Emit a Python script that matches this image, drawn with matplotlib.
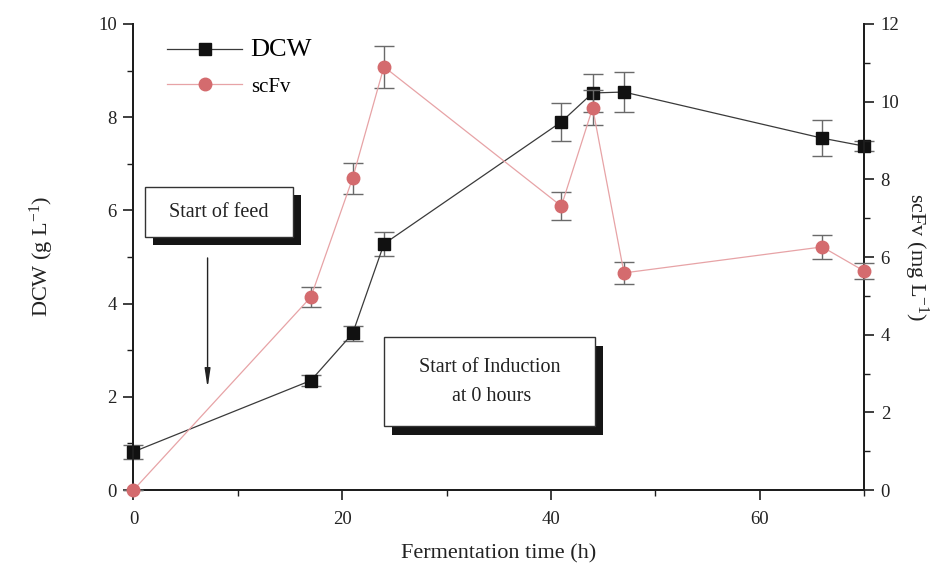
import matplotlib
matplotlib.use("Agg")
import matplotlib.pyplot as plt
from matplotlib.patches import Rectangle
from matplotlib.ticker import MultipleLocator

plt.rcParams["font.family"] = ["Liberation Serif", "DejaVu Serif"]
plt.rcParams["mathtext.fontset"] = "custom"
plt.rcParams["mathtext.rm"] = "Liberation Serif"
plt.rcParams["mathtext.it"] = "Liberation Serif"

# Fermentation time course (h)
time_h = [0, 17, 21, 24, 41, 44, 47, 66, 70]
dcw = [0.82, 2.35, 3.36, 5.28, 7.90, 8.52, 8.54, 7.55, 7.38]
dcw_err = [0.15, 0.12, 0.16, 0.26, 0.40, 0.40, 0.43, 0.38, 0.10]
scfv = [0.0, 4.97, 8.03, 10.9, 7.31, 9.84, 5.59, 6.26, 5.64]
scfv_err = [0.0, 0.26, 0.40, 0.54, 0.36, 0.45, 0.28, 0.30, 0.20]

# feed start marker (h) and arrow span on DCW axis
feed_time = 7.1
feed_arrow = (4.98, 2.19)

INK = "#1e1e1e"
ERR = "#6a6a6a"
PINK_LINE = "#e7a3a6"
PINK_DOT = "#d46b6e"

fig = plt.figure(figsize=(9.42, 5.74), dpi=100)
ax = fig.add_axes([0.1417, 0.1463, 0.7755, 0.8119])
ax2 = ax.twinx()

dcw_plot = ax.errorbar(time_h, dcw, yerr=dcw_err, color="#3a3a3a", lw=0.9,
                       marker="s", ms=8.5, mfc="#111111", mec="#111111",
                       ecolor=ERR, elinewidth=1.0, capsize=7.5, capthick=1.0,
                       zorder=3, clip_on=False)
scfv_plot = ax2.errorbar(time_h, scfv, yerr=scfv_err, color=PINK_LINE, lw=0.9,
                         marker="o", ms=9, mfc=PINK_DOT, mec=PINK_DOT,
                         ecolor=ERR, elinewidth=1.0, capsize=7.5, capthick=1.0,
                         zorder=3, clip_on=False)

ax.set_xlim(0, 70)
ax.set_ylim(0, 10)
ax2.set_ylim(0, 12)

for a in (ax, ax2):
    a.spines["top"].set_visible(False)
    for s in ("left", "right", "bottom"):
        a.spines[s].set_linewidth(1.4)
        a.spines[s].set_color(INK)

ax.xaxis.set_major_locator(MultipleLocator(20))
ax.xaxis.set_minor_locator(MultipleLocator(10))
ax.yaxis.set_major_locator(MultipleLocator(2))
ax.yaxis.set_minor_locator(MultipleLocator(1))
ax2.yaxis.set_major_locator(MultipleLocator(2))
ax2.yaxis.set_minor_locator(MultipleLocator(1))

for a in (ax, ax2):
    a.tick_params(which="major", direction="out", length=7, width=1.2,
                  color=INK, labelsize=13.5, labelcolor="#222222", pad=5)
    a.tick_params(which="minor", direction="out", length=4, width=1.0, color=INK)
ax.tick_params(axis="x", which="major", pad=8)

ax.set_xlabel("Fermentation time (h)", fontsize=16, color="#222222", labelpad=12)
ax.set_ylabel("DCW (g L$^{-1}$)", fontsize=16, color="#222222", labelpad=30)
ax2.set_ylabel("scFv (mg L$^{-1}$)", fontsize=16, color="#222222",
               rotation=270, labelpad=22)

# legend uses only the line+marker part of each errorbar container
leg = ax2.legend([dcw_plot[0], scfv_plot[0]], ["DCW", "scFv"], loc="upper left",
                 bbox_to_anchor=(0.035, 0.985), frameon=False,
                 fontsize=15, handlelength=3.6, handletextpad=0.4,
                 labelspacing=0.75, borderaxespad=0.0)
leg.get_texts()[0].set_fontsize(19)
leg.set_zorder(10)


def shadow_box(axis, x0, y0, w, h, dx=0.011, dy=0.018):
    """White labelled box with a solid drop shadow (axes fraction coords)."""
    axis.add_patch(Rectangle((x0 + dx, y0 - dy), w, h, transform=axis.transAxes,
                             facecolor="#151515", edgecolor="none", zorder=8,
                             clip_on=False))
    axis.add_patch(Rectangle((x0, y0), w, h, transform=axis.transAxes,
                             facecolor="white", edgecolor="#333333", lw=1.0,
                             zorder=9, clip_on=False))


shadow_box(ax2, 0.016, 0.543, 0.202, 0.107)
ax2.text(0.016 + 0.101, 0.543 + 0.0535, "Start of feed", transform=ax2.transAxes,
         ha="center", va="center", fontsize=14.5, color="#222222", zorder=10)

shadow_box(ax2, 0.343, 0.137, 0.289, 0.191)
ax2.text(0.343 + 0.1445, 0.137 + 0.0955, "Start of Induction\n at 0 hours",
         transform=ax2.transAxes, ha="center", va="center", fontsize=14.5,
         color="#222222", linespacing=1.7, zorder=10)

ax.annotate("", xy=(feed_time, feed_arrow[1]), xytext=(feed_time, feed_arrow[0]),
            arrowprops=dict(arrowstyle="-|>,head_width=0.12,head_length=0.8",
                            color="#222222", lw=1.0, mutation_scale=14,
                            shrinkA=0, shrinkB=0),
            zorder=6)

fig.savefig("out.png", dpi=100)
